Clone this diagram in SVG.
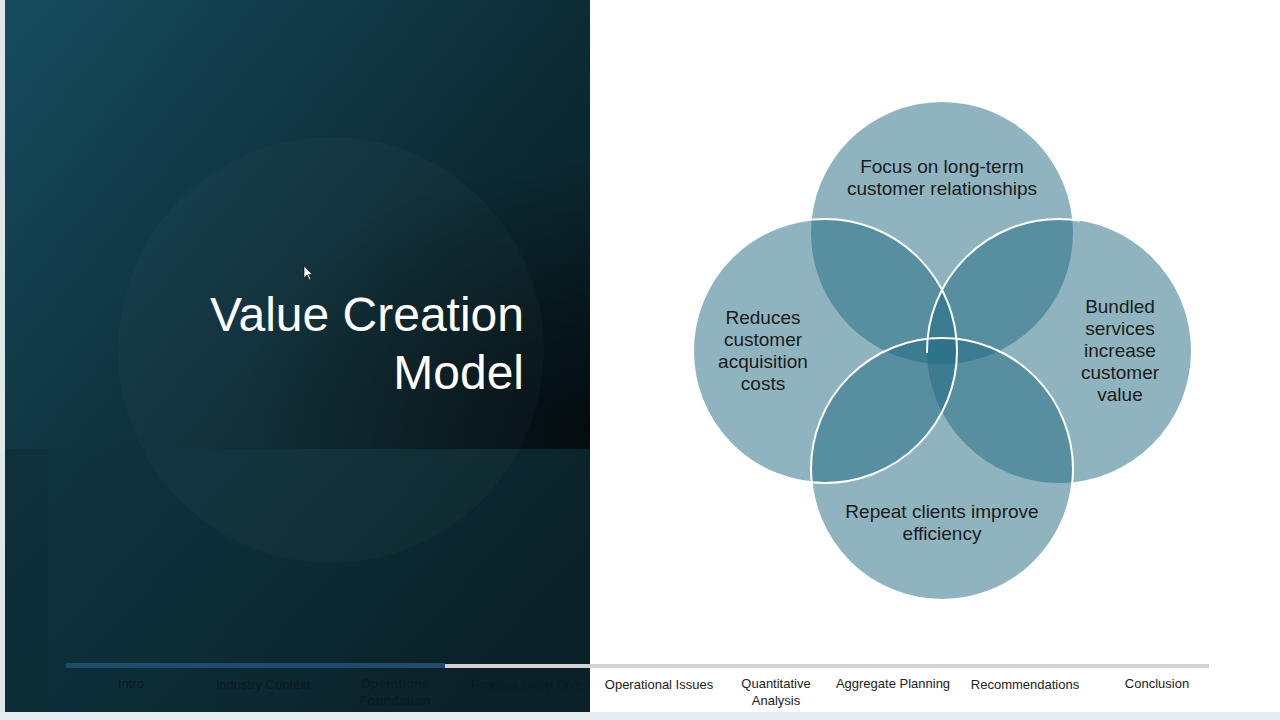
<svg xmlns="http://www.w3.org/2000/svg" width="1280" height="720" viewBox="0 0 1280 720">
<defs>
<linearGradient id="panelG" x1="0" y1="0" x2="1" y2="1">
<stop offset="0" stop-color="#164c5e"/>
<stop offset="0.5" stop-color="#0d2c36"/>
<stop offset="1" stop-color="#061519"/>
</linearGradient>
<radialGradient id="topDark" cx="1" cy="0.95" r="0.6">
<stop offset="0" stop-color="#000" stop-opacity="0.6"/>
<stop offset="1" stop-color="#000" stop-opacity="0"/>
</radialGradient>
<linearGradient id="bandG" x1="0" y1="0" x2="1" y2="0.4">
<stop offset="0" stop-color="#0f3440"/>
<stop offset="0.5" stop-color="#0d2d37"/>
<stop offset="1" stop-color="#0a2127"/>
</linearGradient>
<clipPath id="upperHalf"><rect x="900" y="150" width="180" height="203"/></clipPath>
<style>
.venn{fill:#1f6981;fill-opacity:0.5}
.ring{fill:none;stroke:#ffffff;stroke-width:2}
.vt{font-family:"Liberation Sans",Arial,sans-serif;font-size:19px;fill:#1b1b1b;text-anchor:middle}
.nav{font-family:"Liberation Sans",Arial,sans-serif;font-size:13px;text-anchor:middle}
.navL{fill:#222222}
.navD{fill:#0b1b21}
</style>
</defs>
<rect x="0" y="0" width="1280" height="720" fill="#ffffff"/>
<rect x="0" y="0" width="5" height="720" fill="#dfe7e9"/>
<g id="panel">
<rect x="5" y="0" width="585" height="712" fill="url(#panelG)"/>
<rect x="5" y="0" width="585" height="449" fill="url(#topDark)"/>
<rect x="5" y="449" width="585" height="263" fill="url(#bandG)"/>
<rect x="5" y="449" width="43" height="263" fill="#0b2a33" opacity="0.35"/>
<circle cx="331" cy="350" r="213" fill="#ffffff" fill-opacity="0.022"/>
<path d="M304,266 L304,278 L307,275 L309.5,280 L311,279.3 L308.6,274.4 L312.5,274.4 Z" fill="#ffffff" stroke="#000" stroke-width="0.6"/>
</g>
<g id="title" font-family="'Liberation Sans',Arial,sans-serif" font-size="48" fill="#ffffff" text-anchor="end">
<text x="524" y="331">Value Creation</text>
<text x="524" y="389">Model</text>
</g>
<g id="venn">
<g id="circle-top"><circle class="venn" cx="942" cy="233" r="131"/></g>
<g id="circle-right"><circle class="venn" cx="1059" cy="351" r="132"/></g>
<g id="circle-left"><circle class="venn" cx="825" cy="351" r="132"/></g>
<g id="circle-bottom"><circle class="venn" cx="942" cy="469" r="131"/></g>
</g>
<g id="connectors">
<circle class="ring" cx="1059" cy="351" r="132" clip-path="url(#upperHalf)"/>
<circle class="ring" cx="825" cy="351" r="132"/>
<circle class="ring" cx="942" cy="469" r="131"/>
</g>
<g id="label-top" class="vt">
<text x="942" y="173">Focus on long-term</text>
<text x="942" y="195">customer relationships</text>
</g>
<g id="label-left" class="vt">
<text x="763" y="324">Reduces</text>
<text x="763" y="346">customer</text>
<text x="763" y="368">acquisition</text>
<text x="763" y="390">costs</text>
</g>
<g id="label-right" class="vt">
<text x="1120" y="313">Bundled</text>
<text x="1120" y="335">services</text>
<text x="1120" y="357">increase</text>
<text x="1120" y="379">customer</text>
<text x="1120" y="401">value</text>
</g>
<g id="label-bottom" class="vt">
<text x="942" y="518">Repeat clients improve</text>
<text x="942" y="540">efficiency</text>
</g>
<g id="nav">
<rect x="445" y="664" width="764" height="4" fill="#d2d2d2"/>
<rect x="66" y="663" width="379" height="5" fill="#1f4b6c"/>
<text class="nav navD" x="131" y="688">Intro</text>
<text class="nav navD" x="263" y="689">Industry Context</text>
<text class="nav navD" x="395" y="688" font-weight="bold">Operations</text>
<text class="nav navD" x="395" y="705" font-weight="bold">Foundation</text>
<text class="nav navD" x="527" y="689">Process Deep Dive</text>
<text class="nav navL" x="659" y="689">Operational Issues</text>
<text class="nav navL" x="776" y="688">Quantitative</text>
<text class="nav navL" x="776" y="705">Analysis</text>
<text class="nav navL" x="893" y="688">Aggregate Planning</text>
<text class="nav navL" x="1025" y="689">Recommendations</text>
<text class="nav navL" x="1157" y="688">Conclusion</text>
</g>
<rect x="0" y="712" width="1280" height="8" fill="#e3ecee"/>
</svg>
